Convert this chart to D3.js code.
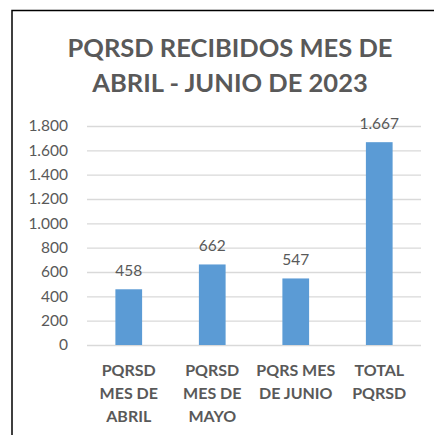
<!DOCTYPE html>
<html>
<head>
<meta charset="utf-8">
<script src="https://cdn.jsdelivr.net/npm/d3@7"></script>
<style>
  body { margin: 0; background: #fff; }
  text { font-family: Lato, "Open Sans", sans-serif; fill: #595959; }
</style>
</head>
<body>
<svg width="434" height="435"></svg>
<script>
// data
var categories = [
	["PQRSD", "MES DE", "ABRIL"],
	["PQRSD", "MES DE", "MAYO"],
	["PQRS MES", "DE JUNIO"],
	["TOTAL", "PQRSD"]
];
var values = [458, 662, 547, 1667];
var yTicks = [0, 200, 400, 600, 800, 1000, 1200, 1400, 1600, 1800];
var titleLines = ["PQRSD RECIBIDOS MES DE", "ABRIL - JUNIO DE 2023"];

var svg = d3.select("svg");

var margin = {left: 87, right: 13, top: 126, bottom: 90},
	width = 434 - margin.left - margin.right,
	height = 435 - margin.top - margin.bottom;

var fmt = d3.formatLocale({decimal: ",", thousands: ".", grouping: [3], currency: ["$", ""]}).format(",d");

// chart frame (only left and top edges are inside the picture)
svg.append("path")
	.attr("d", "M12,435V10.5H434")
	.attr("fill", "none")
	.attr("stroke", "#000")
	.attr("stroke-width", 1.5);

// title
svg.append("g").selectAll("text")
	.data(titleLines)
	.enter().append("text")
	.attr("x", 230)
	.attr("y", function(d, i) { return 57 + i * 35; })
	.attr("text-anchor", "middle")
	.attr("font-size", 25.5)
	.attr("font-weight", "bold")
	.text(function(d) { return d; });

var g = svg.append("g").attr("transform", "translate(" + margin.left + "," + margin.top + ")");

var x = d3.scaleBand()
	.domain(d3.range(values.length))
	.range([0, width])
	.paddingInner(0.68)
	.paddingOuter(0.34);

var y = d3.scaleLinear()
	.domain([0, 1800])
	.range([height, 0]);

// gridlines + y labels
var yAxis = g.append("g")
	.call(d3.axisLeft(y).tickValues(yTicks).tickSize(-width).tickPadding(19).tickFormat(fmt));
yAxis.select(".domain").remove();
yAxis.selectAll(".tick line").attr("stroke", "#d9d9d9").attr("stroke-width", 1.3);
yAxis.selectAll(".tick text")
	.attr("font-size", 15.5)
	.attr("font-family", "Lato")
	.attr("fill", "#595959");

// bars
g.append("g").selectAll("rect")
	.data(values)
	.enter().append("rect")
	.attr("x", function(d, i) { return x(i); })
	.attr("y", function(d) { return y(d); })
	.attr("width", x.bandwidth())
	.attr("height", function(d) { return height - y(d); })
	.attr("fill", "#5b9bd5");

// value labels
g.append("g").selectAll("text")
	.data(values)
	.enter().append("text")
	.attr("x", function(d, i) { return x(i) + x.bandwidth() / 2; })
	.attr("y", function(d) { return y(d) - 13; })
	.attr("text-anchor", "middle")
	.attr("font-size", 15.5)
	.text(function(d) { return fmt(d); });

// category labels, wrapped like the original
var cat = g.append("g").selectAll("text")
	.data(categories)
	.enter().append("text")
	.attr("text-anchor", "middle")
	.attr("font-size", 16)
	.attr("font-weight", "bold");

cat.selectAll("tspan")
	.data(function(d, i) { return d.map(function(s) { return {s: s, i: i}; }); })
	.enter().append("tspan")
	.attr("x", function(d) { return x(d.i) + x.bandwidth() / 2; })
	.attr("y", function(d, j) { return height + 31 + j * 23; })
	.text(function(d) { return d.s; });
</script>
</body>
</html>
